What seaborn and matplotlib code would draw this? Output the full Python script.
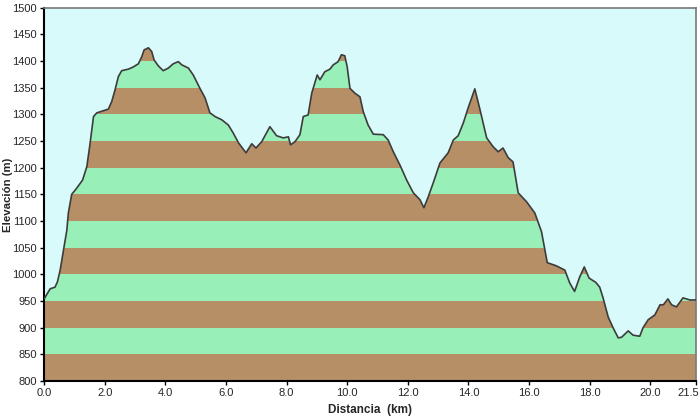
import numpy as np
import pandas as pd
import matplotlib
matplotlib.use("Agg")
import matplotlib.pyplot as plt
import seaborn as sns
from matplotlib.patches import Polygon
from matplotlib.transforms import ScaledTranslation

distance_km = [0.0, 0.2, 0.36, 0.44, 0.53, 0.64, 0.75, 0.8, 0.91, 1.08, 1.27, 1.41, 1.52, 1.63, 1.74, 1.96, 2.12,
               2.23, 2.34, 2.45, 2.56, 2.78, 2.94, 3.11, 3.22, 3.30, 3.44, 3.55, 3.63, 3.77, 3.93, 4.10, 4.26,
               4.43, 4.54, 4.76, 4.92, 5.14, 5.31, 5.47, 5.64, 5.86, 6.08, 6.24, 6.41, 6.57, 6.66, 6.85, 6.99,
               7.18, 7.45, 7.67, 7.89, 8.06, 8.13, 8.28, 8.44, 8.55, 8.71, 8.83, 9.01, 9.10, 9.26, 9.43, 9.54,
               9.70, 9.81, 9.92, 10.0, 10.09, 10.25, 10.42, 10.53, 10.69, 10.86, 11.19, 11.35, 11.52, 11.74,
               11.96, 12.18, 12.40, 12.53, 12.67, 12.84, 13.06, 13.33, 13.50, 13.66, 13.83, 14.0, 14.21, 14.38,
               14.60, 14.82, 14.98, 15.14, 15.31, 15.47, 15.64, 15.92, 16.19, 16.41, 16.60, 16.90, 17.18, 17.34,
               17.50, 17.67, 17.82, 17.98, 18.20, 18.33, 18.44, 18.61, 18.77, 18.94, 19.05, 19.27, 19.43, 19.65,
               19.76, 19.93, 20.15, 20.32, 20.43, 20.58, 20.70, 20.86, 21.08, 21.3, 21.5]
elevation_m = [954, 973, 976, 986, 1008, 1046, 1083, 1115, 1150, 1162, 1177, 1202, 1247, 1296, 1303, 1307, 1310,
               1324, 1346, 1371, 1382, 1385, 1389, 1395, 1408, 1421, 1425, 1418, 1402, 1391, 1382, 1387, 1395,
               1399, 1393, 1387, 1374, 1349, 1331, 1303, 1296, 1290, 1280, 1265, 1247, 1235, 1228, 1245, 1237,
               1249, 1277, 1260, 1256, 1258, 1243, 1249, 1262, 1296, 1299, 1340, 1374, 1365, 1380, 1385, 1393,
               1399, 1412, 1410, 1389, 1349, 1340, 1333, 1305, 1280, 1263, 1262, 1252, 1230, 1205,
               1177, 1153, 1140, 1125, 1145, 1172, 1209, 1228, 1252, 1260, 1284, 1314, 1348, 1309,
               1256, 1239, 1230, 1237, 1219, 1211, 1153, 1136, 1115, 1080, 1022, 1016, 1008, 984,
               968, 995, 1014, 993, 985, 976, 956, 920, 900, 881, 882, 894, 886, 884,
               900, 915, 924, 943, 943, 954, 943, 939, 956, 952, 952]

y_ticks = list(range(800, 1501, 50))
x_ticks = [0, 2, 4, 6, 8, 10, 12, 14, 16, 18, 20, 21.5]
x_tick_labels = ["0.0", "2.0", "4.0", "6.0", "8.0", "10.0", "12.0", "14.0", "16.0", "18.0", "20.0", "21.5"]

df = pd.DataFrame({"Distancia": distance_km, "Elevacion": elevation_m})

sns.set_style("ticks")
plt.rcParams["font.family"] = ["Liberation Sans", "DejaVu Sans"]

fig = plt.figure(figsize=(7.0, 4.17), dpi=100)
ax = fig.add_axes([0.063, 0.0863, 0.931, 0.895])
ax.set_facecolor("#D9FAFA")
ax.set_xlim(0, 21.5)
ax.set_ylim(800, 1500)

brown = "#B78F66"
green = "#98F0B8"
verts = [(distance_km[0], 800)] + list(zip(distance_km, elevation_m)) + [(distance_km[-1], 800)]
clip = Polygon(verts, closed=True, facecolor="none", edgecolor="none", transform=ax.transData)
ax.add_patch(clip)
for i, lo in enumerate(y_ticks[:-1]):
    band = ax.axhspan(lo, lo + 50, color=brown if i % 2 == 0 else green, lw=0, zorder=1)
    band.set_clip_path(clip)

sns.lineplot(data=df, x="Distancia", y="Elevacion", ax=ax, color="#3C3C3C", lw=1.2, zorder=3)

ax.set_xticks(x_ticks)
ax.set_xticklabels(x_tick_labels)
ax.set_yticks(y_ticks)
ax.tick_params(labelsize=8.0, length=3, width=1, color="black", pad=2)
last = ax.get_xticklabels()[-1]
last.set_horizontalalignment("right")
last.set_transform(last.get_transform() + ScaledTranslation(3 / 100, 0, fig.dpi_scale_trans))
ax.set_xlabel("Distancia  (km)", fontsize=8.5, fontweight="bold")
ax.xaxis.set_label_coords(0.5, -0.062)
ax.set_ylabel("Elevación (m)", fontsize=8.2, fontweight="bold")
ax.yaxis.set_label_coords(-0.048, 0.5)
for s in ["left", "bottom"]:
    ax.spines[s].set_color("black")
    ax.spines[s].set_linewidth(1.5)
for s in ["top", "right"]:
    ax.spines[s].set_color("#777777")
    ax.spines[s].set_linewidth(1.2)

fig.savefig("out.png", dpi=100)
